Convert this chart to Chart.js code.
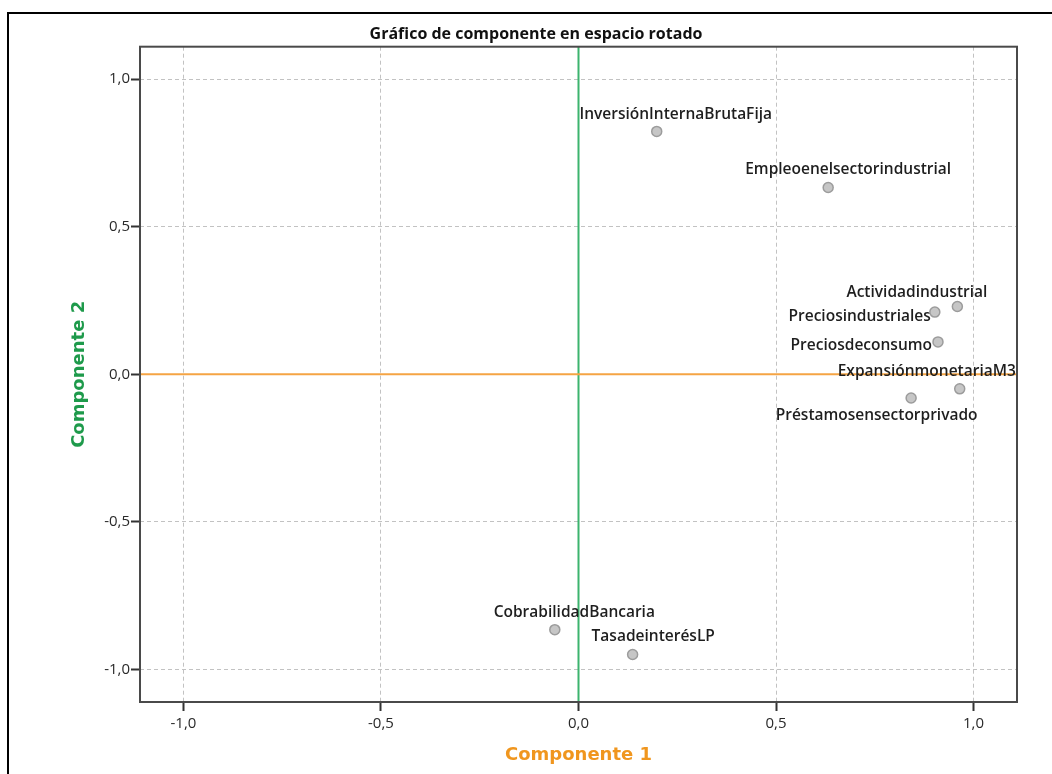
<!DOCTYPE html>
<html>
<head>
<meta charset="utf-8">
<script src="https://cdn.jsdelivr.net/npm/chart.js@4"></script>
<style>
html, body { margin: 0; padding: 0; background: #fff; }
#wrap { position: relative; width: 1052px; height: 774px; overflow: hidden; }
#frame { position: absolute; left: 7px; top: 12px; right: 0; bottom: 0; border-left: 2px solid #000; border-top: 2px solid #000; pointer-events: none; }
canvas { display: block; }
</style>
</head>
<body>
<div id="wrap">
  <canvas id="myChart" width="1052" height="774"></canvas>
  <div id="frame"></div>
</div>
<script>
// variables and their loadings on the two rotated components
const variables = ['InversiónInternaBrutaFija', 'Empleoenelsectorindustrial', 'Actividadindustrial',
  'Preciosindustriales', 'Preciosdeconsumo', 'ExpansiónmonetariaM3', 'Préstamosensectorprivado',
  'CobrabilidadBancaria', 'TasadeinterésLP'];
const comp1 = [0.198, 0.632, 0.959, 0.902, 0.910, 0.965, 0.842, -0.060, 0.137];
const comp2 = [0.823, 0.633, 0.230, 0.211, 0.110, -0.049, -0.080, -0.865, -0.949];
const tickValues = [-1, -0.5, 0, 0.5, 1];

// where each point label sits relative to its point (like SPSS does it)
const labelPlacement = [
  { align: 'center', dx: 19, dy: -17 },
  { align: 'center', dx: 20, dy: -18 },
  { align: 'right', dx: 30, dy: -14 },
  { align: 'right', dx: -4, dy: 5 },
  { align: 'right', dx: -6, dy: 4 },
  { align: 'left', dx: -122, dy: -17.6 },
  { align: 'center', dx: -34.5, dy: 18 },
  { align: 'center', dx: 19.5, dy: -16.7 },
  { align: 'center', dx: 20.6, dy: -17.7 }
];

const fmt = v => v.toFixed(1).replace('.', ',');

const decorations = {
  id: 'decorations',
  beforeDatasetsDraw(chart) {
    const { ctx, chartArea: a, scales: { x, y } } = chart;
    ctx.save();
    ctx.beginPath();
    ctx.rect(a.left, a.top, a.width, a.height);
    ctx.clip();
    // reference lines at 0
    ctx.lineWidth = 2;
    const x0 = x.getPixelForValue(0);
    ctx.strokeStyle = '#3cb46e';
    ctx.beginPath(); ctx.moveTo(x0, a.top); ctx.lineTo(x0, a.bottom); ctx.stroke();
    const y0 = y.getPixelForValue(0);
    ctx.strokeStyle = '#f5a444';
    ctx.beginPath(); ctx.moveTo(a.left, y0); ctx.lineTo(a.right, y0); ctx.stroke();
    // point labels
    ctx.font = '600 15.5px "Open Sans"';
    ctx.fillStyle = '#1e1e1e';
    ctx.textBaseline = 'middle';
    chart.getDatasetMeta(0).data.forEach((pt, i) => {
      const p = labelPlacement[i];
      ctx.textAlign = p.align;
      ctx.fillText(variables[i], pt.x + p.dx, pt.y + p.dy);
    });
    ctx.restore();
  },
  afterDatasetsDraw(chart) {
    const { ctx, chartArea: a } = chart;
    ctx.save();
    ctx.lineWidth = 2;
    ctx.strokeStyle = '#4a4a4a';
    ctx.strokeRect(a.left, a.top, a.width, a.height);
    ctx.restore();
  }
};

const ctx = document.getElementById('myChart').getContext('2d');
const chart = new Chart(ctx, {
  type: 'scatter',
  data: {
    datasets: [{
      label: 'Componentes',
      data: variables.map((v, i) => ({ x: comp1[i], y: comp2[i] })),
      backgroundColor: '#c6c6c6',
      borderColor: '#9c9c9c',
      borderWidth: 1.5,
      pointRadius: 5,
      pointHoverRadius: 5
    }]
  },
  options: {
    responsive: false,
    animation: false,
    layout: { padding: { left: 55, right: 35, top: 0, bottom: 0 } },
    plugins: {
      legend: { display: false },
      tooltip: { enabled: false },
      title: {
        display: true,
        text: 'Gráfico de componente en espacio rotado',
        color: '#111',
        font: { family: 'Open Sans', size: 16, weight: 'bold', lineHeight: 1.2 },
        padding: { top: 25, bottom: 2.5 }
      }
    },
    scales: {
      x: {
        type: 'linear',
        min: -1.11,
        max: 1.11,
        afterBuildTicks: s => { s.ticks = tickValues.map(v => ({ value: v })); },
        afterFit: s => { s.height = 72; },
        ticks: { callback: v => fmt(v), color: '#2a2a2a', padding: 4, font: { family: 'Open Sans', size: 15 } },
        grid: { color: '#c2c2c2', lineWidth: 1, tickColor: '#333', tickWidth: 2, tickLength: 9, tickBorderDash: [] },
        border: { display: false, dash: [4, 3] },
        title: {
          display: true,
          text: 'Componente 1',
          color: '#f0961e',
          font: { family: 'DejaVu Sans', size: 18, weight: 'bold', lineHeight: 1.2 },
          padding: { top: 0, bottom: 8 }
        }
      },
      y: {
        type: 'linear',
        min: -1.11,
        max: 1.11,
        afterBuildTicks: s => { s.ticks = tickValues.map(v => ({ value: v })); },
        afterFit: s => { s.width = 85; },
        ticks: { callback: v => fmt(v), color: '#2a2a2a', padding: 1, font: { family: 'Open Sans', size: 15 } },
        grid: { color: '#c2c2c2', lineWidth: 1, tickColor: '#333', tickWidth: 2, tickLength: 9, tickBorderDash: [] },
        border: { display: false, dash: [4, 3] },
        title: {
          display: true,
          text: 'Componente 2',
          color: '#1e9a4b',
          font: { family: 'DejaVu Sans', size: 18, weight: 'bold', lineHeight: 1.2 },
          padding: { top: 14, bottom: 0 }
        }
      }
    }
  },
  plugins: [decorations]
});
</script>
</body>
</html>
